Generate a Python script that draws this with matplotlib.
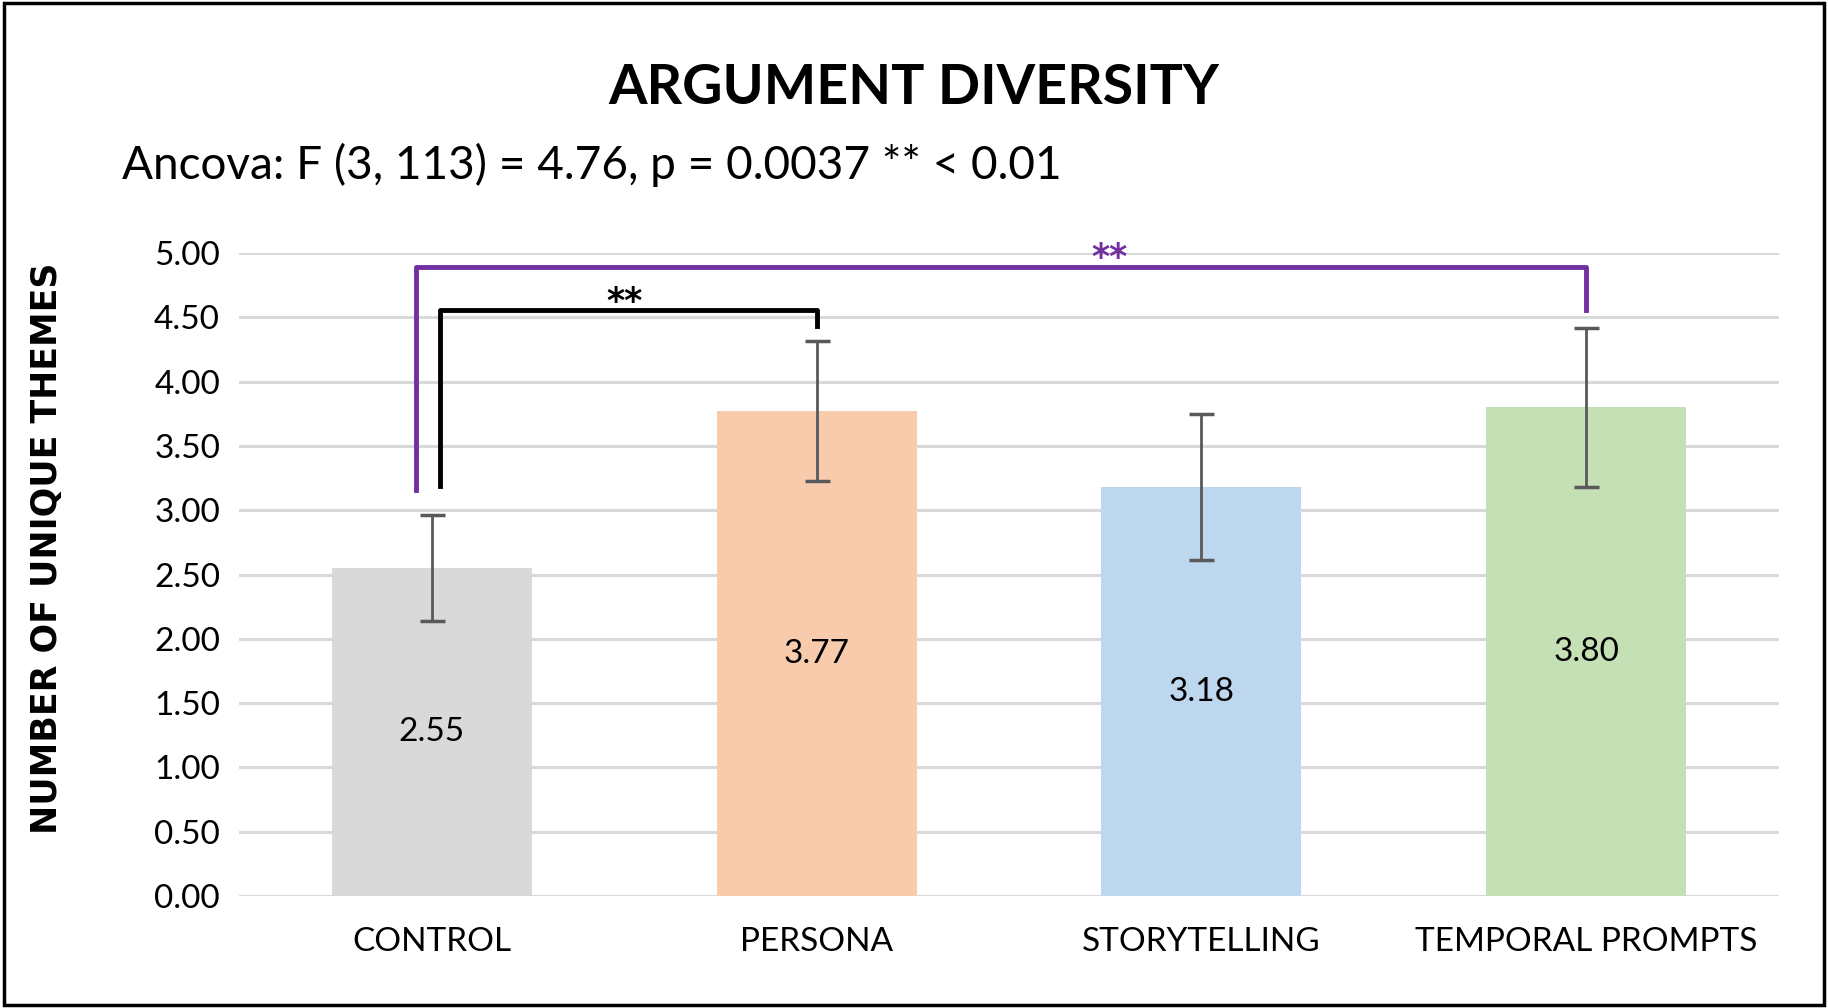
import matplotlib.pyplot as plt
from matplotlib.patches import Rectangle
import numpy as np

categories = ["CONTROL", "PERSONA", "STORYTELLING", "TEMPORAL PROMPTS"]
means = [2.55, 3.77, 3.18, 3.80]
errors = [0.41, 0.545, 0.57, 0.62]
bar_colors = ["#d9d9d9", "#f8cbad", "#bdd7ee", "#c5e0b4"]
yticks = [0.0, 0.5, 1.0, 1.5, 2.0, 2.5, 3.0, 3.5, 4.0, 4.5, 5.0]

font = "Lato"

fig = plt.figure(figsize=(18.28, 10.08), dpi=100)
ax = fig.add_axes([0.131, 0.111, 0.842, 0.638])

x = np.arange(len(categories))
ax.bar(x, means, width=0.52, color=bar_colors, zorder=2)
ax.errorbar(x, means, yerr=errors, fmt="none", ecolor="#595959",
            elinewidth=2, capsize=9, capthick=2.5, zorder=3)

for xi, m in zip(x, means):
    ax.text(xi, m / 2, f"{m:.2f}", ha="center", va="center",
            fontsize=24, family=font, zorder=4)

ax.set_xlim(-0.5, 3.5)
ax.set_ylim(0, 5)
ax.set_yticks(yticks)
ax.set_yticklabels([f"{v:.2f}" for v in yticks], fontsize=24, family=font)
ax.set_xticks(x)
ax.set_xticklabels(categories, fontsize=24, family=font)
ax.tick_params(length=0, pad=14)
ax.tick_params(axis="x", pad=22)
ax.grid(axis="y", color="#d9d9d9", linewidth=2.2, zorder=0)
for s in ax.spines.values():
    s.set_visible(False)

# significance brackets
ax.plot([0.02, 0.02, 1.0, 1.0], [3.19, 4.555, 4.555, 4.43],
        color="black", linewidth=3.5, clip_on=False, zorder=5)
ax.text(0.5, 4.62, "**", ha="center", va="center", fontsize=25,
        fontweight="bold", family="DejaVu Sans", color="black")
ax.plot([-0.04, -0.04, 3.0, 3.0], [3.16, 4.89, 4.89, 4.56],
        color="#7030a0", linewidth=3.5, clip_on=False, zorder=5)
ax.text(1.76, 4.96, "**", ha="center", va="center", fontsize=25,
        fontweight="bold", family="DejaVu Sans", color="#7030a0", clip_on=False)

fig.text(0.5, 0.913, "ARGUMENT DIVERSITY", ha="center", va="center",
         fontsize=40, fontweight="bold", family=font)
fig.text(0.067, 0.836, "Ancova: F (3, 113) = 4.76, p = 0.0037 ** < 0.01",
         ha="left", va="center", fontsize=33, family=font)
fig.text(0.0255, 0.456, "NUMBER OF UNIQUE THEMES", ha="center", va="center",
         rotation=90, fontsize=25, fontweight="bold", family="DejaVu Sans")

fig.add_artist(Rectangle((0.002, 0.003), 0.996, 0.994, transform=fig.transFigure,
                         fill=False, edgecolor="black", linewidth=2.5))

fig.savefig("out.png", dpi=100)
